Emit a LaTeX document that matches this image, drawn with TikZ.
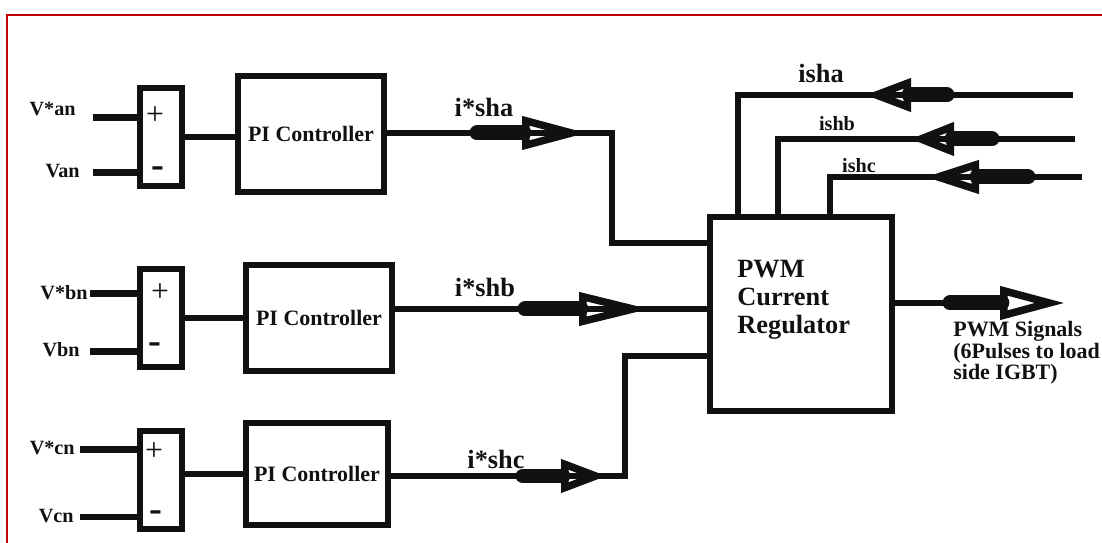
\documentclass[tikz,border=0pt]{standalone}
\usepackage{fontspec}
\setmainfont{Liberation Serif}
\usepackage{tikz}
\usetikzlibrary{positioning,arrows.meta,calc}
\definecolor{cFrame}{HTML}{C00000}
\definecolor{cInk}{HTML}{111111}
\tikzset{
  box/.style    ={draw=cInk, line width=0.12cm, inner sep=0pt, text=cInk,
                  font=\bfseries\fontsize{12.5}{14}\selectfont},
  sumbox/.style ={box, minimum width=0.84cm, minimum height=1.96cm},
  pibox/.style  ={box, minimum width=2.92cm, minimum height=2.2cm},
  pwmbox/.style ={box, minimum width=3.64cm, minimum height=3.88cm},
  pwmtxt/.style ={inner sep=0pt, align=left, text=cInk,
                  font=\bfseries\fontsize{15}{16}\selectfont},
  sgn/.style    ={inner sep=0pt, text=cInk, font=\fontsize{18}{18}\selectfont},
  mns/.style    ={inner sep=0pt, text=cInk, font=\bfseries\fontsize{22}{22}\selectfont},
  wire/.style   ={draw=cInk, line width=0.11cm},
  inwire/.style ={draw=cInk, line width=0.14cm},
  fat/.style    ={draw=cInk, line width=0.3cm, line cap=round,
                  -{Triangle[open, length=#1, width=0.64cm, line width=0.15cm]}},
  fat/.default=1.3cm,
  vlab/.style   ={inner sep=0pt, text=cInk, font=\bfseries\fontsize{11.5}{13}\selectfont},
  ilab/.style   ={inner sep=0pt, text=cInk, font=\bfseries\fontsize{15}{16}\selectfont},
  flab/.style   ={inner sep=0pt, text=cInk, font=\bfseries\fontsize{11.5}{13}\selectfont},
  olab/.style   ={inner sep=0pt, align=left, text=cInk,
                  font=\bfseries\fontsize{12.5}{12.2}\selectfont},
  frame/.style  ={draw=cFrame, line width=0.05cm},
}

\begin{document}
\begin{tikzpicture}[x=0.02cm, y=-0.02cm]

  \useasboundingbox (0,0) rectangle (1102,543);

  % ---- page frame ----
  \coordinate (frmb) at (7,570);
  \coordinate (frmr) at (1130,15);
  \draw[frame] (frmb) |- (frmr);

  % ---- summing junctions ----
  \node[sumbox] (suma) at (161,137) {};
  \node[sumbox] (sumb) at (161,318) {};
  \node[sumbox] (sumc) at (161,480) {};
  \node[sgn] (plusa) at (155,116) {+};
  \node[mns] (minusa) at (158,172) {-};
  \node[sgn] (plusb) at (160,293) {+};
  \node[mns] (minusb) at (155,348) {-};
  \node[sgn] (plusc) at (154,452) {+};
  \node[mns] (minusc) at (156,516) {-};

  % ---- PI controllers ----
  \node[pibox, minimum height=2.32cm] (pia) at (311,134) {PI Controller};
  \node[pibox, minimum height=2.14cm] (pib) at (319,318) {PI Controller};
  \node[pibox, minimum width=2.86cm, minimum height=2.04cm] (pic) at (317,474) {PI Controller};

  % ---- PWM current regulator ----
  \node[pwmbox] (pwm) at (801,314) {};
  \node[pwmtxt, anchor=west] (pwmt) at (737,300) {PWM\\Current\\Regulator};

  % ---- reference inputs ----
  \coordinate (ina1) at (93,118);
  \coordinate (ina2) at (93,173);
  \coordinate (inb1) at (90,294);
  \coordinate (inb2) at (90,352);
  \coordinate (inc1) at (80,450);
  \coordinate (inc2) at (80,517);
  \node[vlab, anchor=base east] (vsa) at (76,116) {V*an};
  \node[vlab, anchor=base east] (va)  at (80,178) {Van};
  \node[vlab, anchor=base east] (vsb) at (88,300) {V*bn};
  \node[vlab, anchor=base east] (vb)  at (80,357) {Vbn};
  \node[vlab, anchor=base east] (vsc) at (75,455) {V*cn};
  \node[vlab, anchor=base east] (vc)  at (74,522) {Vcn};
  \draw[inwire] (ina1) -- (ina1 -| suma.west);
  \draw[inwire] (ina2) -- (ina2 -| suma.west);
  \draw[inwire] (inb1) -- (inb1 -| sumb.west);
  \draw[inwire] (inb2) -- (inb2 -| sumb.west);
  \draw[inwire] (inc1) -- (inc1 -| sumc.west);
  \draw[inwire] (inc2) -- (inc2 -| sumc.west);

  % ---- error into controllers ----
  \draw[wire] (suma.east) -- (suma.east -| pia.west);
  \draw[wire] (sumb.east) -- (sumb.east -| pib.west);
  \draw[wire] (pic.west -| sumc.east) -- (pic.west);

  % ---- reference currents to regulator ----
  \coordinate (sA) at (477,133);
  \coordinate (tA) at (587,133);
  \coordinate (jA) at (612,133);
  \coordinate (kA) at (612,243);
  \draw[wire] (sA -| pia.east) -- (jA) -- (kA) -- (kA -| pwm.west);
  \draw[fat] (sA) -- (tA);
  \node[ilab] (lisa) at (484,107) {i*sha};

  \coordinate (sB) at (525,309);
  \coordinate (tB) at (650,309);
  \draw[wire] (sB -| pib.east) -- (sB -| pwm.west);
  \draw[fat=1.42cm] (sB) -- (tB);
  \node[ilab] (lisb) at (485,287) {i*shb};

  \coordinate (sC) at (523,476);
  \coordinate (tC) at (607,476);
  \coordinate (jC) at (625,476);
  \coordinate (kC) at (625,356);
  \draw[wire] (sC -| pic.east) -- (jC) -- (kC) -- (kC -| pwm.west);
  \draw[fat=0.92cm] (sC) -- (tC);
  \node[ilab] (lisc) at (496,459) {i*shc};

  % ---- sensed currents fed back ----
  \coordinate (eA) at (1073,95);
  \coordinate (cA) at (738,95);
  \coordinate (gA) at (947,95);
  \coordinate (fA) at (865,95);
  \draw[wire] (eA) -- (cA) -- (cA |- pwm.north);
  \draw[fat=0.92cm] (gA) -- (fA);
  \node[ilab] (lfa) at (821,73) {isha};

  \coordinate (eB) at (1075,139);
  \coordinate (cB) at (778,139);
  \coordinate (gB) at (992,139);
  \coordinate (fB) at (910,139);
  \draw[wire] (eB) -- (cB) -- (cB |- pwm.north);
  \draw[fat=0.88cm] (gB) -- (fB);
  \node[flab] (lfb) at (837,124) {ishb};

  \coordinate (eC) at (1082,177);
  \coordinate (cC) at (830,177);
  \coordinate (gC) at (1028,177);
  \coordinate (fC) at (925,177);
  \draw[wire] (eC) -- (cC) -- (cC |- pwm.north);
  \draw[fat=1.08cm] (gC) -- (fC);
  \node[flab] (lfc) at (859,166) {ishc};

  % ---- gate signals out ----
  \coordinate (sO) at (950,303);
  \coordinate (tO) at (1065,303);
  \draw[wire] (sO -| pwm.east) -- (sO);
  \draw[fat] (sO) -- (tO);
  \node[olab, anchor=west] (lout) at (953,353) {PWM Signals\\(6Pulses to load\\side IGBT)};

\end{tikzpicture}
\end{document}
